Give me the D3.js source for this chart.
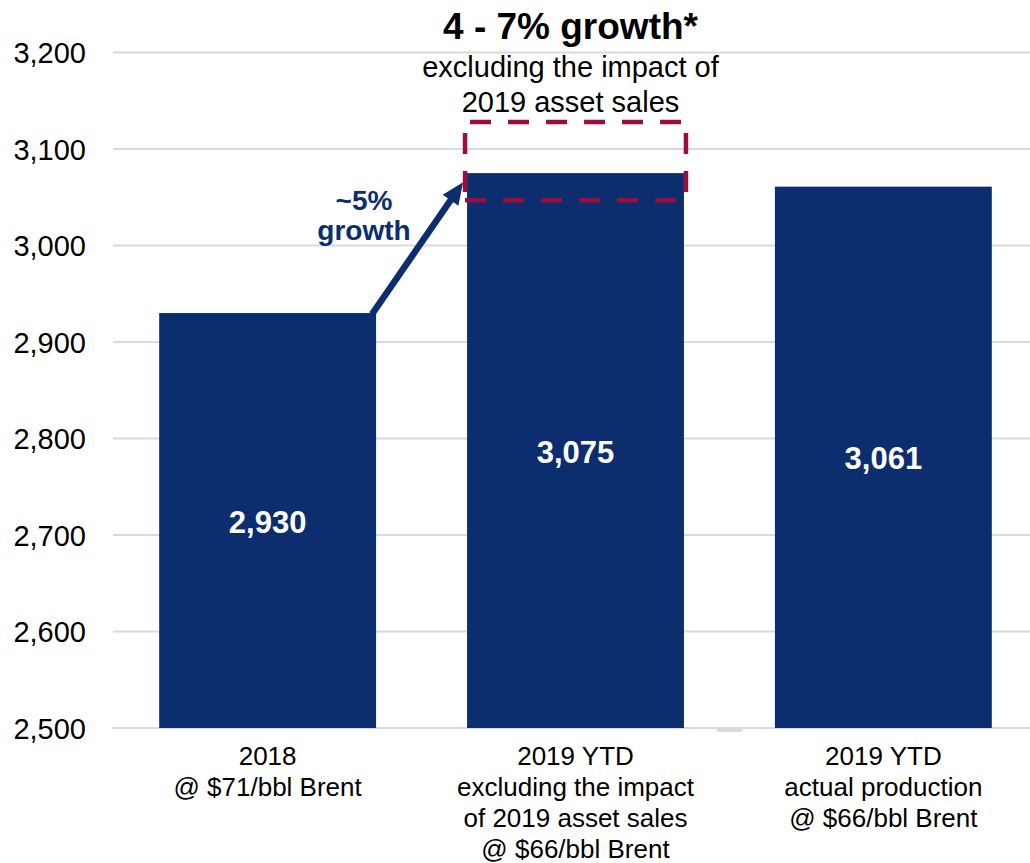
<!DOCTYPE html>
<html>
<head>
<meta charset="utf-8">
<script src="https://cdn.jsdelivr.net/npm/d3@7"></script>
<style>
  html, body { margin: 0; padding: 0; background: #fff; }
  svg { display: block; font-family: "Liberation Sans", Arial, sans-serif; }
</style>
</head>
<body>
<svg id="chart" width="1030" height="863"></svg>
<script>
// Production (kboe/d) by period
const categories = [
  ["2018", "@ $71/bbl Brent"],
  ["2019 YTD", "excluding the impact", "of 2019 asset sales", "@ $66/bbl Brent"],
  ["2019 YTD", "actual production", "@ $66/bbl Brent"]
];
const values = [2930, 3075, 3061];
const yTicks = [2500, 2600, 2700, 2800, 2900, 3000, 3100, 3200];
// Targeted range for 2019 (4 - 7% growth over 2018)
const growthRange = [3047, 3128];
const growthTitle = "4 - 7% growth*";
const growthSubtitle = ["excluding the impact of", "2019 asset sales"];
const arrowLabel = ["~5%", "growth"];

const NAVY = "#0c2d6e";
const CRIMSON = "#9b0d3d";
const GRID = "#d9d9d9";

const svg = d3.select("#chart");

const y = d3.scaleLinear().domain([2500, 3200]).range([728, 52.5]);
const x = d3.scaleBand()
  .domain(d3.range(categories.length))
  .range([113, 1038])
  .paddingInner(0.2955)
  .paddingOuter(0.15);
const bw = x.bandwidth();

// gridlines + tick labels
const yAxis = d3.axisLeft(y).tickValues(yTicks).tickFormat(d3.format(",")).tickSize(0).tickPadding(0);
const gy = svg.append("g").attr("transform", "translate(86,0)").call(yAxis);
gy.select(".domain").remove();
gy.selectAll("text")
  .attr("font-size", 29)
  .attr("fill", "#000")
  .attr("font-family", "Liberation Sans, Arial, sans-serif")
  .attr("dy", "0.36em");

svg.append("g").selectAll("line").data(yTicks).join("line")
  .attr("x1", 113).attr("x2", 1038)
  .attr("y1", d => y(d)).attr("y2", d => y(d))
  .attr("stroke", GRID).attr("stroke-width", 2);

// small tick on the baseline between the second and third bars
svg.append("rect")
  .attr("x", x(1) + bw + 33).attr("y", y(2500) + 1)
  .attr("width", 25).attr("height", 3)
  .attr("fill", GRID);

// bars
svg.append("g").selectAll("rect").data(values).join("rect")
  .attr("x", (d, i) => x(i))
  .attr("y", d => y(d))
  .attr("width", bw)
  .attr("height", d => y(2500) - y(d))
  .attr("fill", NAVY);

// value labels centred in the bars
svg.append("g").selectAll("text").data(values).join("text")
  .attr("x", (d, i) => x(i) + bw / 2)
  .attr("y", d => (y(d) + y(2500)) / 2 + 1)
  .attr("dy", "0.36em")
  .attr("text-anchor", "middle")
  .attr("font-size", 31)
  .attr("font-weight", "bold")
  .attr("fill", "#fff")
  .text(d3.format(","));

// category labels
const cat = svg.append("g").selectAll("text").data(categories).join("text")
  .attr("text-anchor", "middle")
  .attr("font-size", 26)
  .attr("fill", "#000");
cat.each(function(lines, i) {
  d3.select(this).selectAll("tspan").data(lines).join("tspan")
    .attr("x", x(i) + bw / 2)
    .attr("y", (d, j) => 765 + j * 31)
    .text(d => d);
});

// dashed target range box around the second bar
const bx0 = x(1) - 2, bx1 = x(1) + bw + 2;
const by0 = y(growthRange[1]), by1 = y(growthRange[0]);
const box = svg.append("g")
  .attr("stroke", CRIMSON).attr("stroke-width", 4.5).attr("fill", "none")
  .attr("stroke-dasharray", "21 17");
box.append("line").attr("x1", bx0).attr("x2", bx1).attr("y1", by0).attr("y2", by0)
  .attr("stroke-dashoffset", 33);
box.append("line").attr("x1", bx0).attr("x2", bx1).attr("y1", by1).attr("y2", by1)
  .attr("stroke-dashoffset", 0);
box.append("line").attr("x1", bx0).attr("x2", bx0).attr("y1", by0).attr("y2", by1)
  .attr("stroke-dashoffset", 27);
box.append("line").attr("x1", bx1).attr("x2", bx1).attr("y1", by0).attr("y2", by1)
  .attr("stroke-dashoffset", 27);

// growth title above the box
svg.append("text")
  .attr("x", x(1) + bw / 2 - 5).attr("y", 39)
  .attr("text-anchor", "middle")
  .attr("font-size", 37).attr("font-weight", "bold").attr("fill", "#000")
  .text(growthTitle);
svg.append("text")
  .attr("text-anchor", "middle")
  .attr("font-size", 29).attr("fill", "#000")
  .selectAll("tspan").data(growthSubtitle).join("tspan")
  .attr("x", x(1) + bw / 2 - 5)
  .attr("y", (d, j) => 77 + j * 35)
  .text(d => d);

// arrow from the 2018 bar to the 2019 bar
const start = [x(0) + bw - 4, y(values[0]) + 1];
const tip = [x(1) - 4, y(values[1]) + 9];
const dx = tip[0] - start[0], dy = tip[1] - start[1];
const len = Math.hypot(dx, dy);
const ux = dx / len, uy = dy / len;
const headLen = 22, headHalf = 9.5;
const base = [tip[0] - ux * headLen, tip[1] - uy * headLen];
svg.append("line")
  .attr("x1", start[0]).attr("y1", start[1])
  .attr("x2", base[0] + ux * 2).attr("y2", base[1] + uy * 2)
  .attr("stroke", NAVY).attr("stroke-width", 6.5);
svg.append("path")
  .attr("d", d3.line()([
    tip,
    [base[0] - uy * headHalf, base[1] + ux * headHalf],
    [base[0] + uy * headHalf, base[1] - ux * headHalf]
  ]) + "Z")
  .attr("fill", NAVY);

svg.append("text")
  .attr("text-anchor", "middle")
  .attr("font-size", 28).attr("font-weight", "bold").attr("fill", NAVY)
  .selectAll("tspan").data(arrowLabel).join("tspan")
  .attr("x", 364)
  .attr("y", (d, j) => 210 + j * 30)
  .text(d => d);
</script>
</body>
</html>
